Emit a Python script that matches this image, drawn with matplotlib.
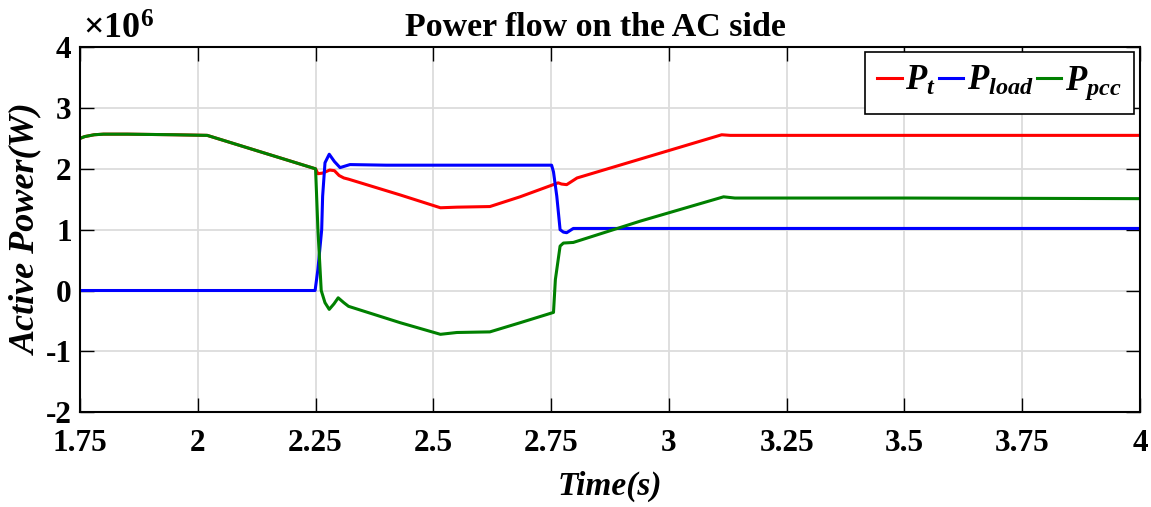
import numpy as np
import matplotlib.pyplot as plt

plt.rcParams['font.family'] = ['Liberation Serif', 'DejaVu Serif']
plt.rcParams['font.weight'] = 'bold'
plt.rcParams['axes.unicode_minus'] = False
plt.rcParams['mathtext.fontset'] = 'custom'
plt.rcParams['mathtext.rm'] = 'Liberation Serif:bold'
plt.rcParams['mathtext.it'] = 'Liberation Serif:italic:bold'
plt.rcParams['mathtext.bf'] = 'Liberation Serif:bold'

# time (s) / power (x1e6 W)
t_pt = [1.75, 1.76, 1.78, 1.80, 1.85, 1.95, 2.02, 2.25, 2.255, 2.265, 2.28, 2.29,
        2.30, 2.31, 2.32, 2.43, 2.515, 2.55, 2.62, 2.684, 2.765, 2.772, 2.783, 2.805,
        2.939, 3.112, 3.13, 3.5, 4.0]
p_t = [2.50, 2.53, 2.56, 2.57, 2.57, 2.56, 2.55, 2.00, 1.92, 1.93, 1.98, 1.97,
       1.89, 1.85, 1.83, 1.57, 1.36, 1.37, 1.38, 1.54, 1.77, 1.75, 1.74, 1.85,
       2.16, 2.56, 2.55, 2.55, 2.55]

t_load = [1.75, 2.249, 2.255, 2.263, 2.265, 2.27, 2.279, 2.29, 2.302, 2.323, 2.40,
          2.751, 2.755, 2.762, 2.769, 2.776, 2.783, 2.797, 3.0, 3.5, 4.0]
p_load = [0.0, 0.0, 0.35, 1.0, 1.55, 2.10, 2.24, 2.12, 2.02, 2.07, 2.06,
          2.06, 1.95, 1.55, 1.00, 0.96, 0.95, 1.02, 1.02, 1.02, 1.02]

t_pcc = [1.75, 1.76, 1.78, 1.80, 1.85, 1.95, 2.02, 2.25, 2.255, 2.262, 2.27, 2.279,
         2.289, 2.298, 2.31, 2.32, 2.43, 2.515, 2.55, 2.62, 2.684, 2.755, 2.759,
         2.769, 2.776, 2.797, 2.939, 3.116, 3.14, 3.5, 4.0]
p_pcc = [2.50, 2.53, 2.56, 2.57, 2.57, 2.56, 2.55, 2.00, 1.00, 0.00, -0.20, -0.31,
         -0.22, -0.12, -0.20, -0.26, -0.53, -0.72, -0.69, -0.68, -0.53, -0.36, 0.18,
         0.73, 0.78, 0.79, 1.14, 1.54, 1.52, 1.52, 1.51]

x_ticks = [1.75, 2, 2.25, 2.5, 2.75, 3, 3.25, 3.5, 3.75, 4]
x_labels = ['1.75', '2', '2.25', '2.5', '2.75', '3', '3.25', '3.5', '3.75', '4']
y_ticks = [-2, -1, 0, 1, 2, 3, 4]

fig = plt.figure(figsize=(11.51, 5.07), dpi=100)
ax = fig.add_axes([0.0695, 0.187, 0.921, 0.72])

ax.plot(t_pt, np.array(p_t) * 1e6, color='#ff0000', lw=2.2, label=r'$P_t$')
ax.plot(t_load, np.array(p_load) * 1e6, color='#0000ff', lw=2.2, label=r'$P_{load}$')
ax.plot(t_pcc, np.array(p_pcc) * 1e6, color='#008000', lw=2.2, label=r'$P_{pcc}$')

ax.set_xlim(1.75, 4)
ax.set_ylim(-2e6, 4e6)
ax.set_xticks(x_ticks)
ax.set_xticklabels(x_labels)
ax.set_yticks(np.array(y_ticks) * 1e6)
ax.set_yticklabels([str(v) for v in y_ticks])
ax.text(0.003, 1.0, r'$\times\mathrm{10^{6}}$', transform=ax.transAxes,
        fontsize=26, ha='left', va='bottom')

ax.grid(True, color='#dcdcdc', lw=1.3)
ax.set_axisbelow(True)
ax.tick_params(direction='in', length=10, width=1, top=True, right=True,
               labelsize=22.5)
ax.tick_params(axis='x', pad=12)
ax.tick_params(axis='y', pad=6)
for s in ax.spines.values():
    s.set_linewidth(1.5)

ax.set_title('Power flow on the AC side', fontsize=24.5, fontweight='bold', pad=8, x=0.486)
ax.set_xlabel('Time(s)', fontsize=24, fontstyle='italic', fontweight='bold', labelpad=9)
ax.set_ylabel('Active Power(W)', fontsize=26, fontstyle='italic', fontweight='bold', labelpad=2)

leg = ax.legend(loc='upper right', bbox_to_anchor=(0.994, 0.986), ncol=3,
                fontsize=25, handlelength=0.7, handletextpad=0.1, columnspacing=0.1,
                borderpad=0.35, borderaxespad=0, fancybox=False, framealpha=1,
                edgecolor='black')
leg.get_frame().set_linewidth(1.2)

fig.savefig('out.png', dpi=100)
